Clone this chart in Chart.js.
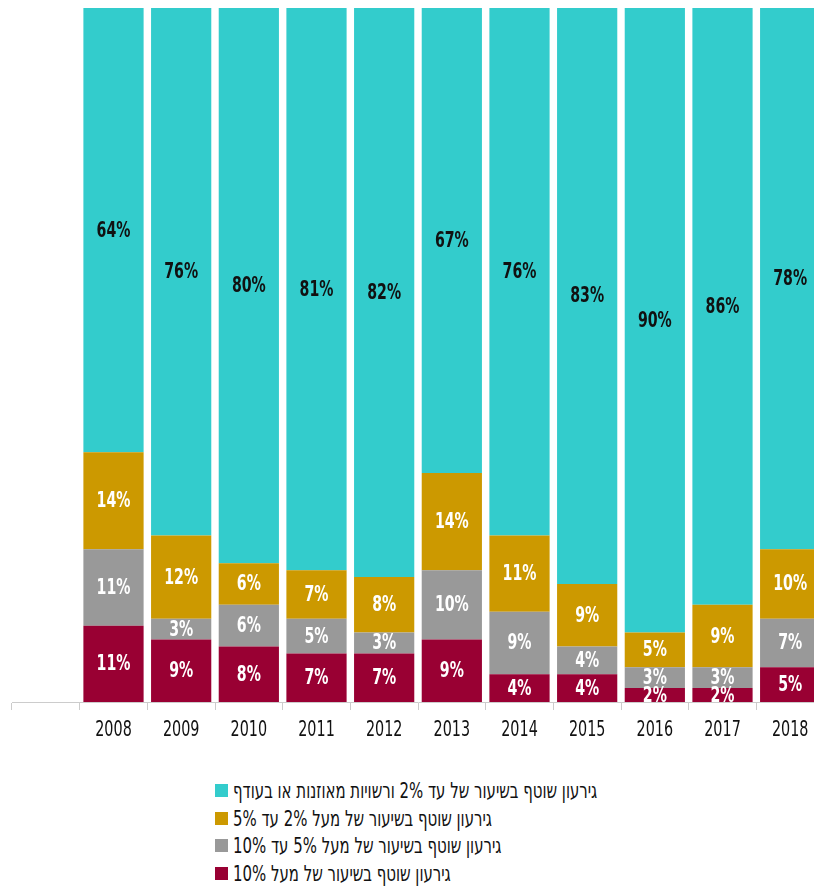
<!DOCTYPE html>
<html>
<head>
<meta charset="utf-8">
<script src="https://cdn.jsdelivr.net/npm/chart.js@4/dist/chart.umd.min.js"></script>
<style>
  html, body { margin: 0; padding: 0; background: #fff; overflow: hidden; }
  #wrap { position: relative; width: 824px; height: 752px; }
  #legend { position: absolute; left: 215px; top: 777px; font-family: "DejaVu Sans Condensed", sans-serif; font-size: 22px; color: #111; }
  .row { height: 27.5px; display: flex; align-items: center; }
  .box { width: 13px; height: 13px; margin-right: 5px; flex: none; }
  .txt { display: inline-block; transform: scaleX(0.755); transform-origin: left center; white-space: nowrap; }
</style>
</head>
<body>
<div id="wrap"><canvas id="chart"></canvas></div>
<div id="legend"></div>
<script>
const years = ["", "2008", "2009", "2010", "2011", "2012", "2013", "2014", "2015", "2016", "2017", "2018"];

// stacked from bottom to top
const over10 = [null, 11, 9, 8, 7, 7, 9, 4, 4, 2, 2, 5];
const from5to10 = [null, 11, 3, 6, 5, 3, 10, 9, 4, 3, 3, 7];
const from2to5 = [null, 14, 12, 6, 7, 8, 14, 11, 9, 5, 9, 10];
const upTo2 = [null, 64, 76, 80, 81, 82, 67, 76, 83, 90, 86, 78];

const labels = [
  "גירעון שוטף בשיעור של מעל 10%",
  "גירעון שוטף בשיעור של מעל 5% עד 10%",
  "גירעון שוטף בשיעור של מעל 2% עד 5%",
  "גירעון שוטף בשיעור של עד 2% ורשויות מאוזנות או בעודף"
];
const colors = ["#990033", "#999999", "#cc9900", "#33cccc"];
const textColors = ["#ffffff", "#ffffff", "#ffffff", "#111111"];
const series = [over10, from5to10, from2to5, upTo2];

const FONT = "'DejaVu Sans Condensed', sans-serif";

// narrow text: draw squeezed horizontally
function narrowText(ctx, text, x, y, sx) {
  ctx.save();
  ctx.translate(x, y);
  ctx.scale(sx, 1);
  ctx.fillText(text, 0, 0);
  ctx.restore();
}

const valueLabels = {
  id: "valueLabels",
  afterDatasetsDraw(chart) {
    const ctx = chart.ctx;
    ctx.save();
    ctx.font = "bold 21px " + FONT;
    ctx.textAlign = "center";
    ctx.textBaseline = "middle";
    chart.data.datasets.forEach((ds, i) => {
      const meta = chart.getDatasetMeta(i);
      meta.data.forEach((bar, j) => {
        const v = ds.data[j];
        if (v == null) return;
        const p = bar.getCenterPoint();
        ctx.fillStyle = textColors[i];
        narrowText(ctx, v + "%", p.x, p.y + 1, 0.75);
      });
    });
    ctx.restore();
  },
  afterDraw(chart) {
    const ctx = chart.ctx;
    const xs = chart.scales.x;
    ctx.save();
    ctx.font = "21px " + FONT;
    ctx.textAlign = "center";
    ctx.textBaseline = "middle";
    ctx.fillStyle = "#111";
    xs.ticks.forEach((t, i) => {
      narrowText(ctx, chart.data.labels[i], xs.getPixelForTick(i), xs.top + 29, 0.76);
    });
    ctx.restore();
  }
};

new Chart(document.getElementById("chart"), {
  type: "bar",
  data: {
    labels: years,
    datasets: series.map((d, i) => ({
      label: labels[i],
      data: d,
      backgroundColor: colors[i],
      borderWidth: 0,
      barPercentage: 0.89,
      categoryPercentage: 1
    }))
  },
  options: {
    responsive: true,
    maintainAspectRatio: false,
    animation: false,
    layout: { padding: { left: 12, right: 0, top: 8, bottom: 0 } },
    plugins: { legend: { display: false }, tooltip: { enabled: false } },
    scales: {
      x: {
        stacked: true,
        offset: true,
        grid: { offset: true, drawOnChartArea: false, color: "#cccccc", tickLength: 8 },
        border: { color: "#cccccc" },
        ticks: {
          color: "rgba(0,0,0,0)",
          padding: 9,
          font: { family: FONT, size: 20 }
        }
      },
      y: { stacked: true, min: 0, max: 100, display: false }
    }
  },
  plugins: [valueLabels]
});

const legend = document.getElementById("legend");
[3, 2, 1, 0].forEach(i => {
  const row = document.createElement("div");
  row.className = "row";
  const box = document.createElement("span");
  box.className = "box";
  box.style.background = colors[i];
  const txt = document.createElement("span");
  txt.className = "txt";
  txt.dir = "rtl";
  txt.textContent = labels[i];
  row.appendChild(box);
  row.appendChild(txt);
  legend.appendChild(row);
});
</script>
</body>
</html>
